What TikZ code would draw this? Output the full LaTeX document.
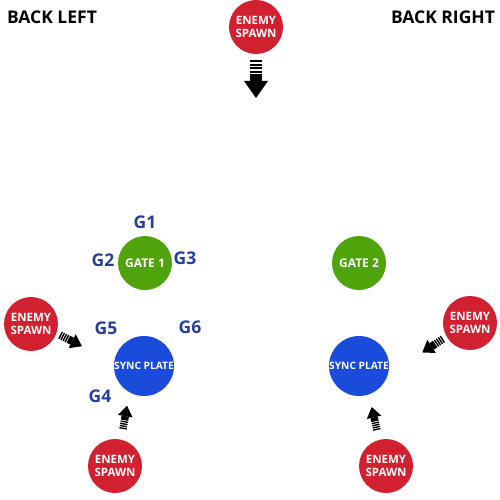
\documentclass[tikz,border=0pt]{standalone}
\usepackage{fontspec}
\setmainfont{Open Sans}
\definecolor{spawnred}{HTML}{D1202F}
\definecolor{gategreen}{HTML}{4FA30B}
\definecolor{plateblue}{HTML}{1B4BDB}
\definecolor{labelblue}{HTML}{263E9C}
\tikzset{
  spawn/.style={circle,fill=spawnred,minimum size=54pt,inner sep=0pt,text=white,align=center,font=\bfseries\fontsize{11.5}{13.5}\selectfont},
  gate/.style={circle,fill=gategreen,minimum size=54pt,inner sep=0pt,text=white,font=\bfseries\fontsize{12}{14}\selectfont},
  plate/.style={circle,fill=plateblue,minimum size=60pt,inner sep=0pt,text=white,font=\bfseries\fontsize{10.2}{12}\selectfont},
  glabel/.style={text=labelblue,font=\bfseries\fontsize{17.5}{20}\selectfont,inner sep=0pt},
  corner/.style={font=\bfseries\fontsize{17.5}{20}\selectfont,inner sep=0pt},
  spawnarrow/.pic={
    \foreach \s in {0,3.6,7.2,10.8}
      \fill (\s,-6) rectangle ++(2.2,12);
    \fill (14.4,-6) rectangle (21,6);
    \fill (21,-12) -- (38,0) -- (21,12) -- cycle;
  }
}
\begin{document}
\begin{tikzpicture}[x=1pt,y=-1pt]
\useasboundingbox (0,0) rectangle (500,500);
\node[corner] (backleft) at (52,17) {BACK LEFT};
\node[corner] (backright) at (443,17) {BACK RIGHT};
% spawns
\node[spawn] (spawntop) at (256,27) {ENEMY\\SPAWN};
\node[spawn] (spawnleft) at (31,324) {ENEMY\\SPAWN};
\node[spawn] (spawnright) at (470,323) {ENEMY\\SPAWN};
\node[spawn] (spawnbl) at (115,466) {ENEMY\\SPAWN};
\node[spawn] (spawnbr) at (386,466) {ENEMY\\SPAWN};
% gates and plates
\node[gate] (gate1) at (145,263) {GATE 1};
\node[gate] (gate2) at (359,263) {GATE 2};
\node[plate] (plate1) at (144,366) {SYNC PLATE};
\node[plate] (plate2) at (359,366) {SYNC PLATE};
% labels
\node[glabel] (g1) at (145,222) {G1};
\node[glabel] (g2) at (103,260) {G2};
\node[glabel] (g3) at (185,258) {G3};
\node[glabel] (g4) at (100,396) {G4};
\node[glabel] (g5) at (106,328) {G5};
\node[glabel] (g6) at (190,327) {G6};
% arrows
\pic[rotate=-90] at (256,60) {spawnarrow};
\pic[rotate=-27,scale=0.65] at (60,335) {spawnarrow};
\pic[rotate=213,scale=0.65] at (443,339) {spawnarrow};
\pic[rotate=80,scale=0.62] at (123,429) {spawnarrow};
\pic[rotate=103,scale=0.62] at (377,430) {spawnarrow};
\end{tikzpicture}
\end{document}
